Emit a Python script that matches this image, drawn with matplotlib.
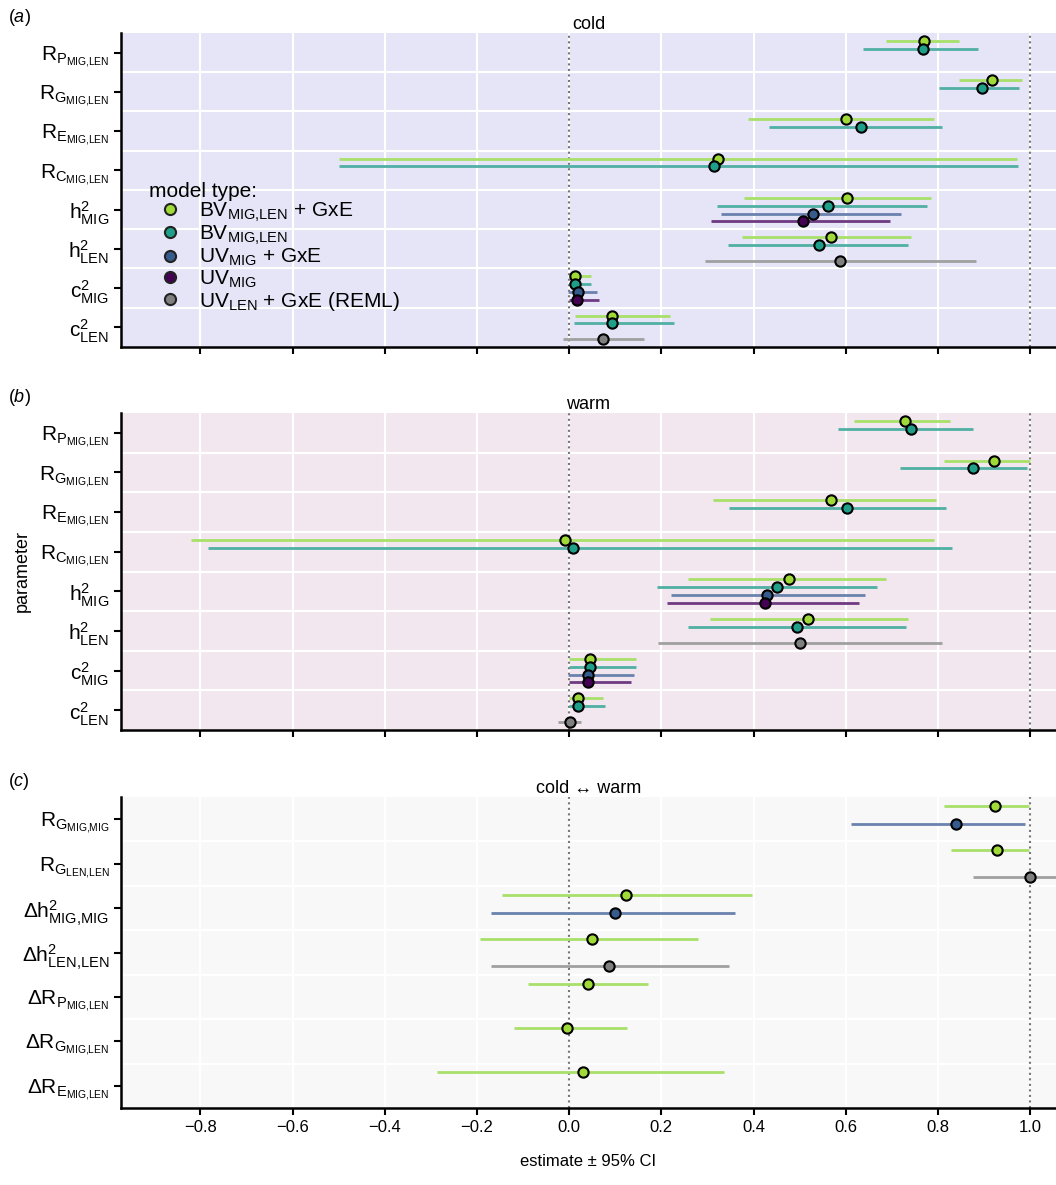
import matplotlib.pyplot as plt
import numpy as np

plt.rcParams['font.family'] = ['Liberation Sans', 'DejaVu Sans']
plt.rcParams['mathtext.fontset'] = 'custom'
plt.rcParams['mathtext.rm'] = 'Liberation Sans'
plt.rcParams['mathtext.it'] = 'Liberation Sans:italic'

nan = np.nan

params_ab = [r'$\mathregular{R_{P_{MIG{,}LEN}}}$', r'$\mathregular{R_{G_{MIG{,}LEN}}}$',
             r'$\mathregular{R_{E_{MIG{,}LEN}}}$', r'$\mathregular{R_{C_{MIG{,}LEN}}}$',
             r'$\mathregular{h^2_{MIG}}$', r'$\mathregular{h^2_{LEN}}$',
             r'$\mathregular{c^2_{MIG}}$', r'$\mathregular{c^2_{LEN}}$']
params_c = [r'$\mathregular{R_{G_{MIG{,}MIG}}}$', r'$\mathregular{R_{G_{LEN{,}LEN}}}$',
            r'$\mathregular{\Delta h^2_{MIG{,}MIG}}$', r'$\mathregular{\Delta h^2_{LEN{,}LEN}}$',
            r'$\mathregular{\Delta R_{P_{MIG{,}LEN}}}$', r'$\mathregular{\Delta R_{G_{MIG{,}LEN}}}$',
            r'$\mathregular{\Delta R_{E_{MIG{,}LEN}}}$']

models = [r'$\mathregular{BV_{MIG{,}LEN}}$ + GxE', r'$\mathregular{BV_{MIG{,}LEN}}$',
          r'$\mathregular{UV_{MIG}}$ + GxE', r'$\mathregular{UV_{MIG}}$',
          r'$\mathregular{UV_{LEN}}$ + GxE (REML)']
pt_cols = ['#a0da39', '#1f9e89', '#365c8d', '#440154', '#808080']
ln_cols = ['#a8e06a', '#4fb0a3', '#6a82ad', '#6e3a82', '#a0a0a0']
slots = [-0.3, -0.1, 0.1, 0.3, 0.3]

# cold: est / lo / hi per model
cold_est = [[0.770, 0.917, 0.600, 0.323, 0.602, 0.567, 0.012, 0.092],
            [0.767, 0.896, 0.633, 0.314, 0.562, 0.542, 0.012, 0.092],
            [nan, nan, nan, nan, 0.529, nan, 0.020, nan],
            [nan, nan, nan, nan, 0.507, nan, 0.017, nan],
            [nan, nan, nan, nan, nan, 0.588, nan, 0.074]]
cold_lo = [[0.687, 0.845, 0.389, -0.499, 0.379, 0.376, 0.000, 0.012],
           [0.637, 0.803, 0.434, -0.499, 0.321, 0.344, 0.000, 0.011],
           [nan, nan, nan, nan, 0.330, nan, -0.002, nan],
           [nan, nan, nan, nan, 0.307, nan, 0.000, nan],
           [nan, nan, nan, nan, nan, 0.294, nan, -0.014]]
cold_hi = [[0.845, 0.982, 0.792, 0.972, 0.784, 0.742, 0.048, 0.219],
           [0.887, 0.976, 0.809, 0.973, 0.776, 0.736, 0.048, 0.227],
           [nan, nan, nan, nan, 0.720, nan, 0.060, nan],
           [nan, nan, nan, nan, 0.695, nan, 0.064, nan],
           [nan, nan, nan, nan, nan, 0.882, nan, 0.162]]

warm_est = [[0.728, 0.921, 0.569, -0.010, 0.477, 0.518, 0.046, 0.019],
            [0.742, 0.876, 0.603, 0.009, 0.451, 0.494, 0.046, 0.020],
            [nan, nan, nan, nan, 0.430, nan, 0.040, nan],
            [nan, nan, nan, nan, 0.425, nan, 0.041, nan],
            [nan, nan, nan, nan, nan, 0.500, nan, 0.001]]
warm_lo = [[0.618, 0.812, 0.313, -0.821, 0.257, 0.305, 0.000, 0.000],
           [0.584, 0.717, 0.347, -0.784, 0.190, 0.257, 0.000, 0.000],
           [nan, nan, nan, nan, 0.221, nan, -0.003, nan],
           [nan, nan, nan, nan, 0.212, nan, 0.000, nan],
           [nan, nan, nan, nan, nan, 0.192, nan, -0.025]]
warm_hi = [[0.826, 1.000, 0.796, 0.791, 0.688, 0.734, 0.144, 0.074],
           [0.876, 0.994, 0.818, 0.830, 0.667, 0.731, 0.144, 0.078],
           [nan, nan, nan, nan, 0.642, nan, 0.140, nan],
           [nan, nan, nan, nan, 0.629, nan, 0.134, nan],
           [nan, nan, nan, nan, nan, 0.808, nan, 0.026]]

diff_est = [[0.924, 0.928, 0.123, 0.049, 0.041, -0.004, 0.031],
            [nan] * 7,
            [0.839, nan, 0.100, nan, nan, nan, nan],
            [nan] * 7,
            [nan, 1.000, nan, 0.087, nan, nan, nan]]
diff_lo = [[0.813, 0.828, -0.146, -0.194, -0.090, -0.119, -0.286],
           [nan] * 7,
           [0.611, nan, -0.170, nan, nan, nan, nan],
           [nan] * 7,
           [nan, 0.877, nan, -0.170, nan, nan, nan]]
diff_hi = [[0.998, 0.998, 0.396, 0.279, 0.172, 0.126, 0.336],
           [nan] * 7,
           [0.989, nan, 0.360, nan, nan, nan, nan],
           [nan] * 7,
           [nan, 1.120, nan, 0.346, nan, nan, nan]]

xticks = [-0.8, -0.6, -0.4, -0.2, 0.0, 0.2, 0.4, 0.6, 0.8, 1.0]

fig = plt.figure(figsize=(10.56, 11.85), dpi=100)
W, H = 1056, 1185
boxes = [(33, 347), (413, 730), (797, 1108)]
panels = [(params_ab, cold_est, cold_lo, cold_hi, '#e5e5f7', 'cold', 'a'),
          (params_ab, warm_est, warm_lo, warm_hi, '#f2e7ef', 'warm', 'b'),
          (params_c, diff_est, diff_lo, diff_hi, '#f8f8f8', 'cold \u2194 warm', 'c')]

axes = []
for (top, bot), (pars, est, lo, hi, bg, title, lab) in zip(boxes, panels):
    ax = fig.add_axes([121 / W, 1 - bot / H, 1 - 121 / W, (bot - top) / H])
    axes.append(ax)
    ax.set_facecolor(bg)
    n = len(pars)
    for k in range(5):
        y = np.arange(n) + slots[k]
        ax.hlines(y, lo[k], hi[k], color=ln_cols[k], lw=2, zorder=2)
        ax.scatter(est[k], y, s=55, color=pt_cols[k], edgecolor='black',
                   linewidth=1.5, zorder=3)
    ax.set_xlim(-0.972, 1.056)
    ax.set_ylim(n - 0.5, -0.5)
    ax.set_yticks(range(n))
    ax.set_yticklabels(pars, fontsize=15)
    ax.set_yticks(np.arange(n - 1) + 0.5, minor=True)
    ax.set_xticks(xticks)
    ax.grid(True, axis='x', which='major', color='white', lw=1.5, zorder=0)
    ax.grid(True, axis='y', which='minor', color='white', lw=1.5, zorder=0)
    ax.set_axisbelow(True)
    ax.tick_params(axis='y', which='minor', length=0)
    ax.tick_params(which='major', length=5, width=1.5, color='black')
    for v in (0, 1):
        ax.axvline(v, color='#777777', ls=':', lw=1.5, zorder=1)
    for s in ('top', 'right'):
        ax.spines[s].set_visible(False)
    for s in ('left', 'bottom'):
        ax.spines[s].set_linewidth(1.8)
    ax.set_title(title, fontsize=13, pad=2)
    fig.text(8 / W, 1 - (top - 15) / H, '(' + r'$\mathit{' + lab + '}$' + ')',
             fontsize=13, va='center')
    if lab != 'c':
        ax.set_xticklabels([])
    else:
        ax.set_xticklabels(['\u22120.8', '\u22120.6', '\u22120.4', '\u22120.2', '0.0',
                            '0.2', '0.4', '0.6', '0.8', '1.0'], fontsize=12)
        ax.set_xlabel('estimate \u00b1 95% CI', fontsize=12, labelpad=14)

handles = [plt.Line2D([], [], ls='', marker='o', ms=8, mfc=pt_cols[k], mec='#222222', mew=1.5)
           for k in range(5)]
leg = axes[0].legend(handles, models, title='model type:', loc='upper left',
                     bbox_to_anchor=(0.012, 0.58), frameon=False, fontsize=15,
                     title_fontsize=15, handletextpad=0.4, labelspacing=0.0,
                     borderaxespad=0.4)
leg._legend_box.align = 'left'

fig.text(22 / W, 1 - 571 / H, 'parameter', rotation=90, fontsize=13, va='center', ha='center')

plt.savefig('out.png', dpi=100)
plt.close()
